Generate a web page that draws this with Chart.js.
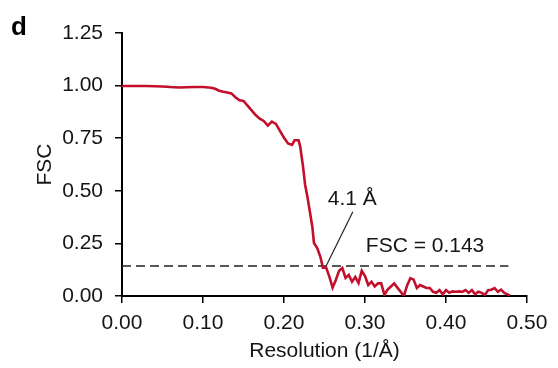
<!DOCTYPE html>
<html>
<head>
<meta charset="utf-8">
<script src="https://cdn.jsdelivr.net/npm/chart.js@4"></script>
<style>
  html,body{margin:0;padding:0;background:#fff;}
  #box{width:558px;height:368px;}
</style>
</head>
<body>
<div id="box"><canvas id="fsc"></canvas></div>
<script>
// dati della curva FSC (risoluzione in 1/Å)
var resolution = [0.000,0.010,0.020,0.030,0.040,0.050,0.060,0.070,0.080,0.090,0.100,0.110,0.115,0.120,0.125,0.130,0.135,0.140,0.145,0.150,
  0.155,0.160,0.165,0.170,0.175,0.180,0.185,0.190,0.195,0.200,0.205,0.210,0.213,0.218,0.220,0.2235,0.226,0.229,0.231,0.235,
  0.237,0.241,0.245,0.248,0.252,0.256,0.260,0.264,0.268,0.272,0.276,0.280,0.284,0.288,0.292,0.296,0.300,0.304,0.308,0.312,
  0.316,0.320,0.324,0.328,0.332,0.336,0.340,0.344,0.348,0.352,0.356,0.360,0.364,0.368,0.372,0.376,0.380,0.384,0.388,0.392,
  0.396,0.400,0.404,0.408,0.412,0.416,0.420,0.424,0.428,0.432,0.436,0.440,0.444,0.448,0.452,0.456,0.460,0.464,0.468,0.472,
  0.476,0.479];
var fsc = [0.998,0.998,0.998,0.998,0.997,0.996,0.993,0.991,0.992,0.993,0.993,0.990,0.985,0.976,0.971,0.967,0.963,0.945,0.930,0.927,
  0.905,0.882,0.860,0.843,0.832,0.810,0.829,0.818,0.785,0.752,0.725,0.718,0.740,0.740,0.710,0.615,0.530,0.470,0.423,0.328,
  0.252,0.228,0.185,0.135,0.135,0.092,0.040,0.076,0.120,0.133,0.086,0.100,0.068,0.090,0.062,0.120,0.095,0.052,0.068,0.045,
  0.060,0.060,0.005,0.030,0.045,0.060,0.040,0.020,0.000,0.050,0.085,0.078,0.038,0.052,0.045,0.038,0.038,0.020,0.015,0.028,
  0.008,0.028,0.015,0.022,0.020,0.022,0.020,0.028,0.015,0.028,0.008,0.020,0.015,0.005,0.028,0.030,0.038,0.020,0.030,0.015,
  0.008,0.002];

// soglia e risoluzione stimata
var soglia = 0.143;
var sogliaX = [0, 0.477];
var pointerX = [0.252, 0.285];
var pointerY = [0.143, 0.400];

var xTicks = [0, 0.1, 0.2, 0.3, 0.4, 0.5];
var yTicks = [0, 0.25, 0.5, 0.75, 1.0, 1.25];

var punti = [];
for (i = 0; i < resolution.length; i++) punti.push({x: resolution[i], y: fsc[i]});

var FONT = "'Liberation Sans', Arial, sans-serif";
var INK = "#151515";

// testi annotazione + lettera pannello
var testi = {
  id: 'testi',
  afterDraw: function(chart) {
    var c = chart.ctx, xs = chart.scales.x, ys = chart.scales.y;
    c.save();
    c.fillStyle = INK;
    c.textBaseline = 'alphabetic';
    c.textAlign = 'left';
    c.font = "21px " + FONT;
    c.fillText("4.1 Å", xs.getPixelForValue(0.254), ys.getPixelForValue(0.433));
    c.fillText("FSC = 0.143", xs.getPixelForValue(0.301), ys.getPixelForValue(0.209));
    c.fillStyle = "#000";
    c.font = "bold 26px " + FONT;
    c.fillText("d", 11, 35);
    c.restore();
  }
};

var ctx = document.getElementById('fsc').getContext('2d');
new Chart(ctx, {
  type: 'scatter',
  data: {
    datasets: [{
      data: punti,
      showLine: true,
      borderColor: '#c20f2c',
      borderWidth: 2.6,
      pointRadius: 0,
      tension: 0
    }, {
      data: [{x: sogliaX[0], y: soglia}, {x: sogliaX[1], y: soglia}],
      showLine: true,
      borderColor: '#222',
      borderWidth: 1.5,
      borderDash: [9, 5],
      pointRadius: 0
    }, {
      data: [{x: pointerX[0], y: pointerY[0]}, {x: pointerX[1], y: pointerY[1]}],
      showLine: true,
      borderColor: '#222',
      borderWidth: 1.2,
      pointRadius: 0
    }]
  },
  options: {
    responsive: true,
    maintainAspectRatio: false,
    animation: false,
    layout: {padding: {top: 33, right: 31, left: 0, bottom: 0}},
    plugins: {legend: {display: false}, tooltip: {enabled: false}},
    scales: {
      x: {
        type: 'linear', min: 0, max: 0.5,
        afterBuildTicks: function(s) { s.ticks = xTicks.map(function(v){ return {value: v}; }); },
        afterFit: function(s) { s.height = 72; },
        ticks: {color: INK, font: {family: FONT, size: 21}, padding: 8,
          callback: function(v){ return v.toFixed(2); }},
        grid: {drawOnChartArea: false, drawTicks: true, tickLength: 7, color: '#000', lineWidth: 1.5},
        border: {display: true, color: '#000', width: 2},
        title: {display: true, text: 'Resolution (1/Å)', color: INK, font: {family: FONT, size: 21}, padding: {top: 0}}
      },
      y: {
        type: 'linear', min: 0, max: 1.25,
        afterBuildTicks: function(s) { s.ticks = yTicks.map(function(v){ return {value: v}; }); },
        afterFit: function(s) { s.width = 122; },
        ticks: {color: INK, font: {family: FONT, size: 21}, padding: 12,
          callback: function(v){ return v.toFixed(2); }},
        grid: {drawOnChartArea: false, drawTicks: true, tickLength: 7, color: '#000', lineWidth: 1.5},
        border: {display: true, color: '#000', width: 2},
        title: {display: true, text: 'FSC', color: INK, font: {family: FONT, size: 21}, padding: {top: 33, bottom: 0}}
      }
    }
  },
  plugins: [testi]
});
</script>
</body>
</html>
